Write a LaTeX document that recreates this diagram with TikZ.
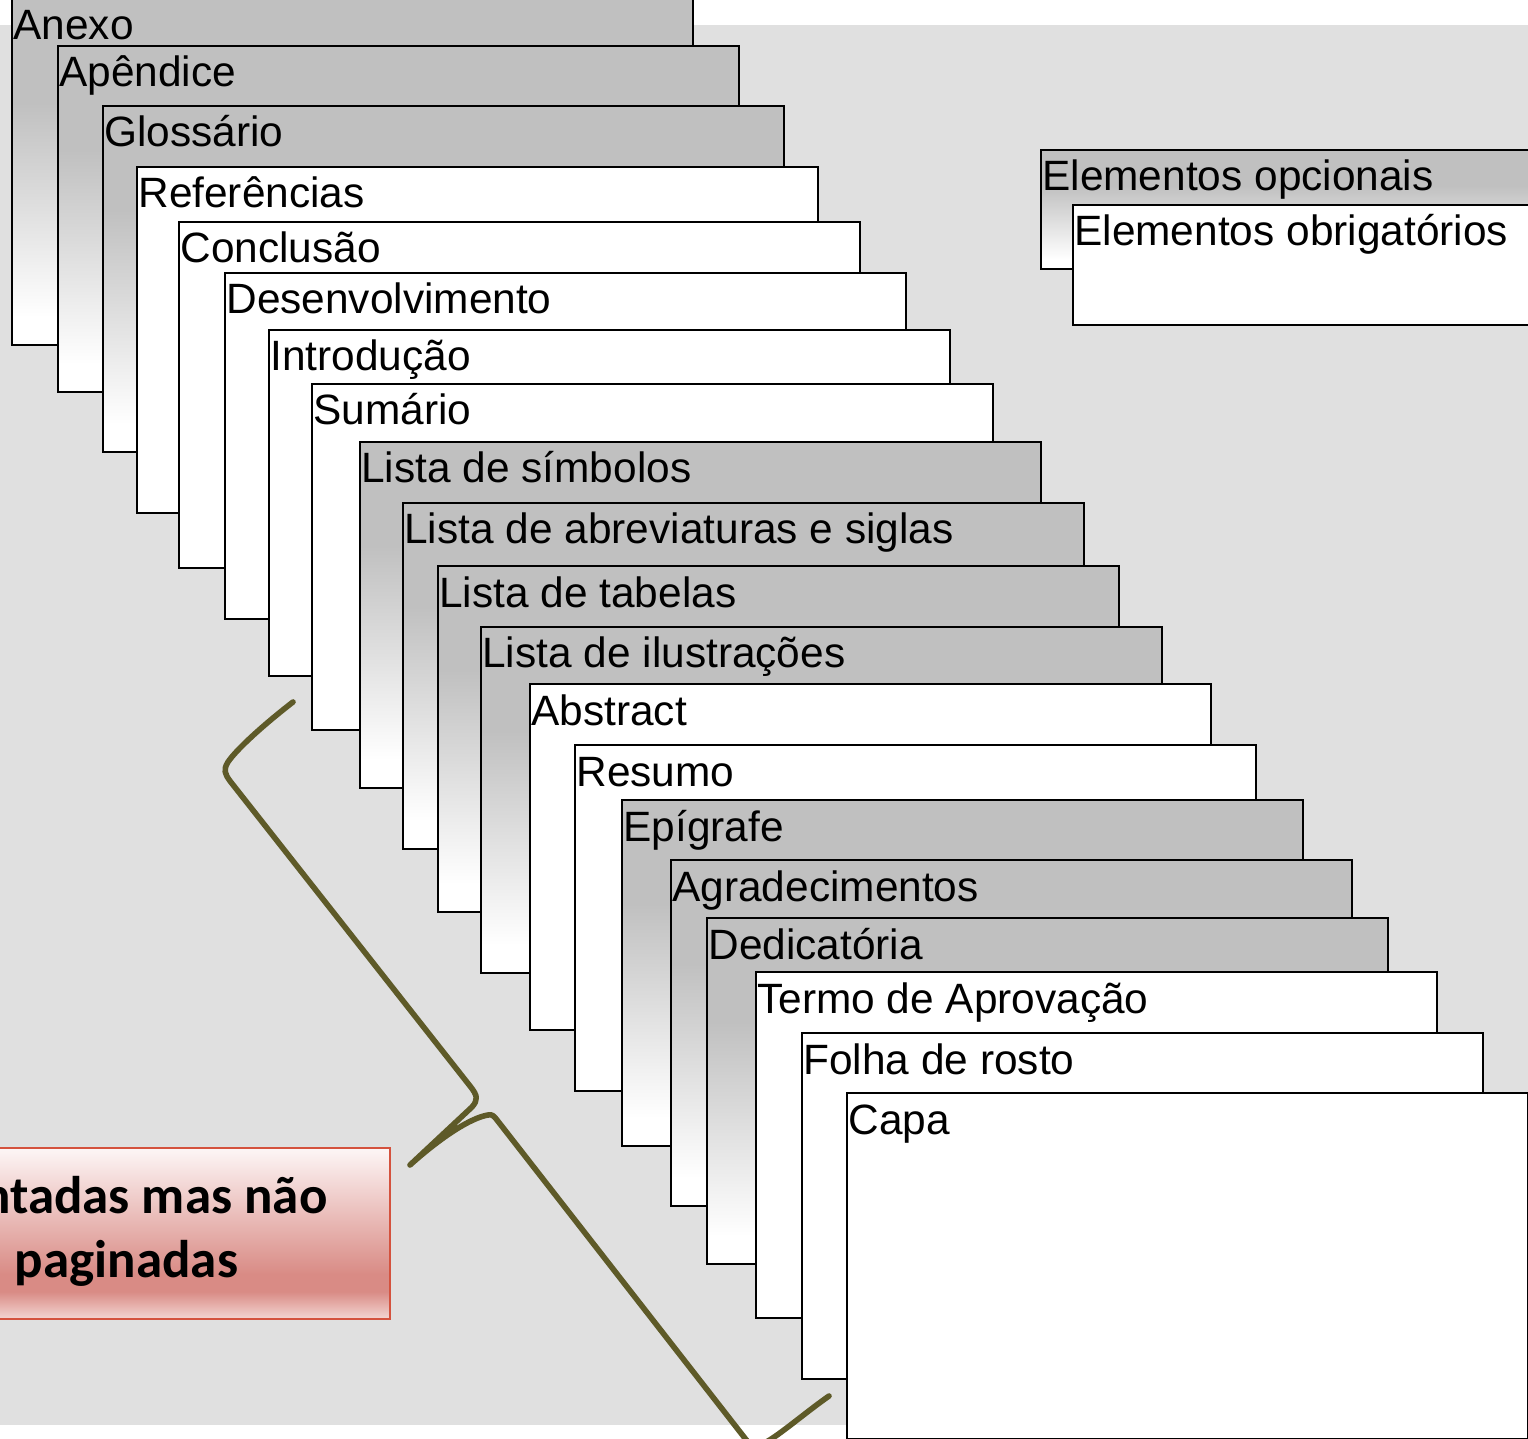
\documentclass[tikz,border=0pt]{standalone}
\usepackage{fontspec}
\setmainfont{Liberation Sans}
\newfontfamily\calfont{Carlito}
\definecolor{cardg}{RGB}{192,192,192}
\definecolor{bggray}{RGB}{224,224,224}
\definecolor{bracec}{RGB}{94,90,40}
\definecolor{redline}{RGB}{212,82,62}
\definecolor{rbT}{RGB}{253,246,246}
\definecolor{rbD}{RGB}{217,139,133}
\definecolor{rbB}{RGB}{243,214,211}
\pgfdeclareverticalshading{cardshade}{100bp}{color(0bp)=(white); color(29bp)=(white); color(60bp)=(cardg); color(100bp)=(cardg)}
\pgfdeclareverticalshading{redshade}{100bp}{color(0bp)=(rbB); color(25bp)=(rbB); color(33bp)=(rbD); color(38bp)=(rbD); color(75bp)=(rbT); color(100bp)=(rbT)}
\newcommand\mycard[5]{%
  \node[#4] (#1) at (#2,#3) {};
  \node[cardtext] (#1t) at ({#2+1},{#3+41}) {#5};
}
\begin{document}
\begin{tikzpicture}[x=0.5pt,y=-0.5pt,
  cardbase/.style={draw=black, line width=1pt, rectangle, inner sep=0pt, outer sep=0pt, anchor=north west, minimum width=340.5pt, minimum height=173pt},
  graycard/.style={cardbase, shade, shading=cardshade},
  whitecard/.style={cardbase, fill=white},
  cardtext/.style={font=\fontsize{21.2pt}{25pt}\selectfont, inner sep=0pt, anchor=base west},
  boxtext/.style={font=\calfont\bfseries\fontsize{26.5pt}{32pt}\selectfont, inner sep=0pt, anchor=base},
  bracestyle/.style={draw=bracec, line width=2.8pt, line cap=round, line join=round}
]
\useasboundingbox (0,0) rectangle (1528,1439);
\clip (0,0) rectangle (1528,1439);
\fill[white] (0,0) rectangle (1528,1439);
\fill[bggray] (0,25) rectangle (1528,1425);

\mycard{anexo}{12}{-1}{graycard}{Anexo}
\mycard{apendice}{58}{46}{graycard}{Apêndice}
\mycard{glossario}{103}{106}{graycard}{Glossário}
\mycard{referencias}{137}{167}{whitecard}{Referências}
\mycard{conclusao}{179}{222}{whitecard}{Conclusão}
\mycard{desenv}{225}{273}{whitecard}{Desenvolvimento}
\mycard{intro}{269}{330}{whitecard}{Introdução}
\mycard{sumario}{312}{384}{whitecard}{Sumário}
\mycard{simbolos}{360}{442}{graycard}{Lista de símbolos}
\mycard{abrev}{403}{503}{graycard}{Lista de abreviaturas e siglas}
\mycard{tabelas}{438}{566}{graycard}{Lista de tabelas}
\mycard{ilustr}{481}{627}{graycard}{Lista de ilustrações}
\mycard{abstract}{530}{684}{whitecard}{Abstract}
\mycard{resumo}{575}{745}{whitecard}{Resumo}
\mycard{epigrafe}{622}{800}{graycard}{Epígrafe}
\mycard{agradec}{671}{860}{graycard}{Agradecimentos}
\mycard{dedic}{707}{918}{graycard}{Dedicatória}
\mycard{termo}{756}{972}{whitecard}{Termo de Aprovação}
\mycard{folha}{802}{1033}{whitecard}{Folha de rosto}
\mycard{capa}{847}{1093}{whitecard}{Capa}

% legend
\mycard{opc}{1041}{150}{graycard, minimum height=59.5pt}{Elementos opcionais}
\mycard{obr}{1073}{205}{whitecard, minimum height=60pt}{Elementos obrigatórios}

% red box
\node[draw=redline, line width=1pt, shade, shading=redshade, rectangle, inner sep=0pt,
      minimum width=263.5pt, minimum height=85.5pt] (redbox) at (126.5,1233.5) {};
\node[boxtext] (rt1) at (126.5,1213) {Contadas mas não};
\node[boxtext] (rt2) at (126.5,1277) {paginadas};

% brace
\path[bracestyle] (293,702) .. controls (262,726) and (236,750) .. (228,762)
  .. controls (223,770) and (225,774) .. (230,781)
  -- (470,1086)
  .. controls (478,1096) and (478,1100) .. (472,1107)
  -- (410,1165)
  .. controls (440,1138) and (470,1118) .. (488,1115)
  .. controls (492,1114) and (494,1116) .. (497,1120)
  -- (744,1437)
  .. controls (749,1444) and (753,1447) .. (762,1444)
  .. controls (775,1439) and (802,1415) .. (829,1396);
\end{tikzpicture}
\end{document}
